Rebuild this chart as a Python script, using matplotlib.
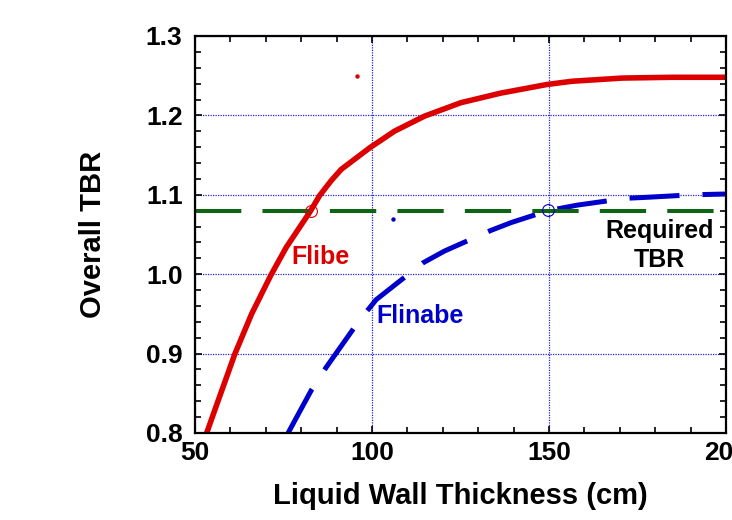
import matplotlib
matplotlib.use("Agg")
import matplotlib.pyplot as plt
from matplotlib.ticker import MultipleLocator, FormatStrFormatter

# Flibe TBR vs liquid wall thickness
flibe_x = [53.3, 56.4, 61.3, 66.0, 71.4, 75.8, 82.4, 85.2, 88.5, 91.3, 99.3,
           106.3, 114.8, 125.1, 136.3, 149.5, 156.5, 170.6, 184.6, 200.0]
flibe_y = [0.800, 0.839, 0.900, 0.950, 0.9985, 1.034, 1.078, 1.099, 1.118, 1.132,
           1.159, 1.180, 1.199, 1.216, 1.228, 1.239, 1.243, 1.247, 1.248, 1.248]

# Flinabe TBR
flinabe_x = [76.3, 79.7, 83.0, 87.1, 96.3, 101.2, 114.3, 120.4, 133.5, 139.3,
             149.7, 158.0, 171.7, 178.3, 190.4, 200.0]
flinabe_y = [0.800, 0.828, 0.855, 0.883, 0.941, 0.968, 1.014, 1.029, 1.055, 1.065,
             1.080, 1.087, 1.0956, 1.097, 1.100, 1.101]

required_tbr = 1.08
req_x = [50, 200]
cross_flibe = (82.7, 1.08)
cross_flinabe = (149.8, 1.081)
stray_red = (95.9, 1.249)
stray_blue = (105.8, 1.0695)

RED = "#dd0000"
BLUE = "#0000cc"
GREEN = "#0f6414"

plt.rcParams["font.family"] = ["Liberation Sans", "DejaVu Sans"]
plt.rcParams["font.weight"] = "bold"

fig = plt.figure(figsize=(7.32, 5.20), dpi=100)
ax = fig.add_axes([195 / 732, 1 - 433 / 520, 531 / 732, 397 / 520])

ax.plot(flibe_x, flibe_y, color=RED, lw=4.0, solid_capstyle="butt",
        solid_joinstyle="round")
ax.plot(flinabe_x, flinabe_y, color=BLUE, lw=3.6, dashes=(10, 4.6),
        dash_capstyle="butt")
ax.plot(req_x, [required_tbr, required_tbr], color=GREEN, lw=2.9,
        dashes=(11.5, 5.25), dash_capstyle="butt")

# intersection markers and the two stray points of the original
ax.plot(*cross_flibe, "o", ms=8.5, mfc="none", mec=RED, mew=0.8)
ax.plot(*cross_flinabe, "o", ms=8.5, mfc="none", mec=BLUE, mew=0.8)
ax.plot(*stray_red, "o", ms=2.2, color=RED)
ax.plot(*stray_blue, "o", ms=2.2, color=BLUE)

ax.text(77.2, 1.0125, "Flibe", color=RED, fontsize=18, fontweight="bold")
ax.text(101.2, 0.9383, "Flinabe", color=BLUE, fontsize=18, fontweight="bold")
ax.text(181.2, 1.046, "Required", color="black", fontsize=18,
        fontweight="bold", ha="center")
ax.text(181.2, 1.0096, "TBR", color="black", fontsize=18,
        fontweight="bold", ha="center")

ax.set_xlim(50, 200)
ax.set_ylim(0.8, 1.3)
ax.xaxis.set_major_locator(MultipleLocator(50))
ax.xaxis.set_minor_locator(MultipleLocator(10))
ax.yaxis.set_major_locator(MultipleLocator(0.1))
ax.yaxis.set_minor_locator(MultipleLocator(0.02))
ax.yaxis.set_major_formatter(FormatStrFormatter("%.1f"))

ax.tick_params(which="both", direction="in", top=True, right=True,
               width=1.2, color="black")
ax.tick_params(which="major", length=5)
ax.tick_params(which="minor", length=4)
ax.tick_params(axis="x", which="major", labelsize=19, pad=6)
ax.tick_params(axis="y", which="major", labelsize=19, pad=9)
for lab in ax.get_xticklabels() + ax.get_yticklabels():
    lab.set_fontweight("bold")

ax.grid(True, which="major", color="#2020dd", lw=0.9, ls=(0, (1, 1)))
for s in ax.spines.values():
    s.set_linewidth(1.6)
    s.set_color("black")

ax.set_xlabel("Liquid Wall Thickness (cm)", fontsize=21, fontweight="bold",
              labelpad=12)
ax.set_ylabel("Overall TBR", fontsize=21, fontweight="bold", labelpad=28)

fig.savefig("out.png", dpi=100)
